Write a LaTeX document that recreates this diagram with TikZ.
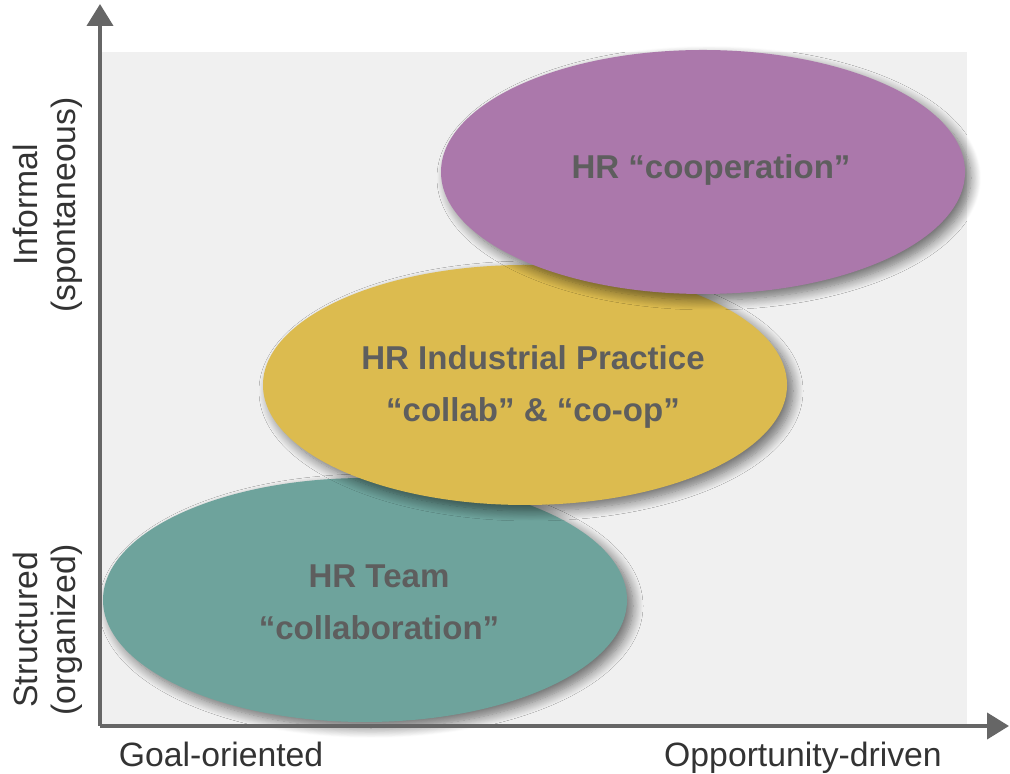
\documentclass[tikz,border=0pt]{standalone}
\usepackage{fontspec}
\setmainfont{Liberation Sans}
\usetikzlibrary{arrows.meta,shapes.geometric,shadows.blur}

\definecolor{axisgray}{HTML}{666666}
\definecolor{panelgray}{HTML}{F0F0F0}
\definecolor{coopviolet}{HTML}{AB78AB}
\definecolor{practiceyellow}{HTML}{DCBB4F}
\definecolor{teamteal}{HTML}{6EA39C}
\definecolor{tagtext}{HTML}{5E5E5E}

\tikzset{
  axis/.style={line width=1mm, axisgray, -{Triangle[length=5.5mm,width=6.5mm]}},
  blob/.style={ellipse, fill=#1, draw=none, inner sep=0pt,
    minimum width=131mm, minimum height=61mm,
    blur shadow={shadow xshift=1.5mm, shadow yshift=-1.5mm,
      shadow blur radius=2.5mm, shadow blur steps=12, shadow opacity=55}},
  tag/.style={align=center, text=tagtext, font=\bfseries\fontsize{23.5}{37}\selectfont},
  axislabel/.style={align=center, text=black!80, font=\fontsize{24}{27}\selectfont}
}

\begin{document}
\begin{tikzpicture}[x=0.25mm, y=0.25mm]
  \useasboundingbox (0,0) rectangle (1010,774);

  \coordinate (origin) at (100,48);
  \fill [panelgray] (origin) rectangle (967,722);

  % the three fields, bottom one first
  \node [blob=teamteal] (team) at (365,174) {};
  \node [blob=practiceyellow, minimum height=60mm] (practice) at (525,389) {};
  \node [blob=coopviolet] (coop) at (703,602) {};

  \node [tag] (teamtxt) at ([xshift=3.5mm,yshift=-0.5mm]team.center) {HR Team\\“collaboration”};
  \node [tag] (practicetxt) at ([xshift=2mm,yshift=-0.5mm]practice.center) {HR Industrial Practice\\“collab” \& “co-op”};
  \node [tag] (cooptxt) at ([xshift=2mm,yshift=0.5mm]coop.center) {HR “cooperation”};

  % axes
  \coordinate (ytip) at (100,770);
  \coordinate (xtip) at (1009,48);
  \draw [axis] (origin) -- (ytip);
  \draw [axis] (origin) -- (xtip);

  \node [axislabel, rotate=90] (informal) at (48,569) {Informal\\(spontaneous)};
  \node [axislabel, rotate=90] (structured) at (48,144) {Structured\\(organized)};
  \node [axislabel, anchor=base] (goal) at (221,8) {Goal-oriented};
  \node [axislabel, anchor=base] (opportunity) at (803,8) {Opportunity-driven};
\end{tikzpicture}
\end{document}
